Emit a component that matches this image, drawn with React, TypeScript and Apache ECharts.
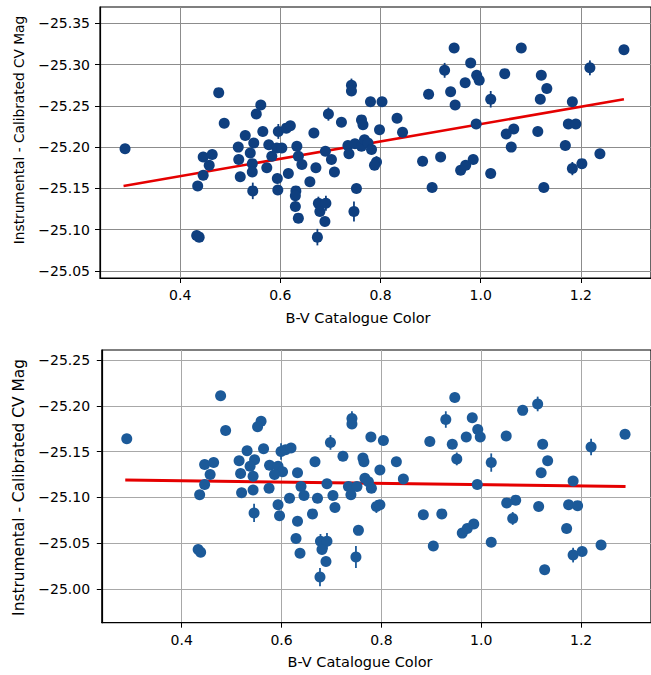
import React, { useEffect, useRef } from "react";
import * as echarts from "echarts";

// ---------- data ----------
const xTicks = [0.4, 0.6, 0.8, 1.0, 1.2];
const topYTicks = [-25.35, -25.3, -25.25, -25.2, -25.15, -25.1, -25.05];
const botYTicks = [-25.25, -25.2, -25.15, -25.1, -25.05, -25.0];

const xTitle = "B-V Catalogue Color";
const yTitle = "Instrumental - Calibrated CV Mag";

// top panel: raw offsets
const topBV = [
  0.290, 0.477, 0.488, 0.561, 0.552, 0.530, 0.565, 0.516, 0.517, 0.520,
  0.446, 0.464, 0.458, 0.446, 0.435, 0.433, 0.438, 0.545, 0.547, 0.540,
  0.544, 0.544, 0.573, 0.577, 0.593, 0.603, 0.583, 0.596, 0.612, 0.620,
  0.633, 0.636, 0.643, 0.616, 0.594, 0.595, 0.631, 0.630, 0.630, 0.636,
  0.659, 0.667, 0.671, 0.676, 0.691, 0.679, 0.689, 0.674, 0.696, 0.690,
  0.702, 0.708, 0.722, 0.742, 0.742, 0.762, 0.765, 0.780, 0.803, 0.798,
  0.833, 0.844, 0.735, 0.737, 0.749, 0.762, 0.768, 0.775, 0.782, 0.792,
  0.788, 0.752, 0.747, 0.947, 1.081, 1.286, 0.928, 0.980, 0.992, 0.997,
  0.969, 0.940, 0.949, 0.896, 1.048, 1.121, 1.132, 1.119, 1.218, 1.183,
  1.020, 0.991, 1.066, 1.051, 1.114, 1.175, 1.190, 1.061, 1.169, 1.238,
  0.884, 0.920, 0.960, 0.970, 0.985, 1.020, 0.903, 1.126, 1.183, 1.202,
];
const topMag = [
  -25.198, -25.266, -25.229, -25.251, -25.240, -25.214, -25.219, -25.200, -25.185, -25.164,
  -25.188, -25.191, -25.178, -25.166, -25.153, -25.093, -25.091, -25.147, -25.205, -25.193,
  -25.180, -25.170, -25.175, -25.203, -25.199, -25.199, -25.189, -25.219, -25.223, -25.226,
  -25.201, -25.189, -25.179, -25.168, -25.162, -25.148, -25.147, -25.141, -25.128, -25.114,
  -25.158, -25.217, -25.175, -25.132, -25.132, -25.122, -25.110, -25.091, -25.240, -25.195,
  -25.185, -25.170, -25.230, -25.275, -25.268, -25.233, -25.227, -25.255, -25.255, -25.221,
  -25.235, -25.218, -25.202, -25.192, -25.204, -25.201, -25.209, -25.205, -25.197, -25.182,
  -25.178, -25.150, -25.122, -25.320, -25.320, -25.318, -25.293, -25.302, -25.287, -25.281,
  -25.278, -25.267, -25.251, -25.264, -25.289, -25.287, -25.271, -25.258, -25.296, -25.255,
  -25.258, -25.228, -25.222, -25.216, -25.219, -25.228, -25.228, -25.200, -25.202, -25.192,
  -25.183, -25.188, -25.172, -25.178, -25.185, -25.168, -25.151, -25.151, -25.174, -25.180,
];
const topErr = [
  0, 0, 0, 0, 0, 0, 0, 0, 0, 0,
  0, 0, 0, 0, 0, 0, 0, 0.010, 0, 0,
  0, 0, 0, 0, 0, 0, 0, 0.009, 0, 0,
  0, 0, 0, 0, 0, 0, 0, 0, 0, 0,
  0, 0, 0, 0.008, 0.009, 0, 0, 0.010, 0.008, 0,
  0, 0, 0, 0.008, 0, 0, 0, 0, 0, 0,
  0, 0, 0, 0, 0, 0, 0, 0, 0, 0.007,
  0, 0, 0.012, 0, 0, 0, 0.009, 0, 0, 0,
  0, 0, 0, 0, 0, 0, 0, 0, 0.009, 0,
  0.010, 0, 0, 0, 0, 0, 0, 0, 0, 0,
  0, 0, 0, 0, 0, 0, 0, 0, 0.008, 0,
];
const topFitBV = [0.287, 1.286];
const topFitMag = [-25.153, -25.258];

// bottom panel: corrected offsets
const botBV = [
  0.290, 0.478, 0.488, 0.559, 0.552, 0.531, 0.564, 0.515, 0.518, 0.520,
  0.446, 0.464, 0.457, 0.446, 0.436, 0.433, 0.438, 0.545, 0.546, 0.537,
  0.543, 0.543, 0.575, 0.576, 0.593, 0.602, 0.586, 0.599, 0.608, 0.619,
  0.632, 0.639, 0.645, 0.616, 0.593, 0.596, 0.632, 0.629, 0.637, 0.662,
  0.667, 0.672, 0.678, 0.691, 0.681, 0.689, 0.677, 0.698, 0.691, 0.703,
  0.707, 0.723, 0.741, 0.741, 0.763, 0.765, 0.779, 0.804, 0.797, 0.830,
  0.844, 0.734, 0.739, 0.751, 0.767, 0.774, 0.780, 0.790, 0.797, 0.754,
  0.749, 0.947, 1.083, 1.113, 1.288, 0.929, 0.982, 0.993, 0.998, 0.970,
  0.942, 0.951, 0.897, 1.050, 1.123, 1.133, 1.120, 1.220, 1.184, 1.020,
  0.992, 1.069, 1.051, 1.115, 1.175, 1.193, 1.063, 1.171, 1.240, 0.884,
  0.921, 0.962, 0.972, 0.985, 1.020, 0.904, 1.127, 1.184, 1.202,
];
const botMag = [
  -25.164, -25.211, -25.173, -25.183, -25.177, -25.151, -25.153, -25.140, -25.126, -25.105,
  -25.136, -25.138, -25.125, -25.114, -25.103, -25.043, -25.040, -25.083, -25.141, -25.134,
  -25.123, -25.108, -25.110, -25.135, -25.134, -25.128, -25.125, -25.150, -25.152, -25.154,
  -25.127, -25.112, -25.102, -25.099, -25.092, -25.080, -25.074, -25.055, -25.039, -25.082,
  -25.139, -25.099, -25.052, -25.052, -25.043, -25.030, -25.013, -25.160, -25.115, -25.102,
  -25.089, -25.145, -25.186, -25.180, -25.143, -25.139, -25.166, -25.162, -25.130, -25.139,
  -25.120, -25.112, -25.103, -25.112, -25.121, -25.117, -25.110, -25.090, -25.092, -25.064,
  -25.035, -25.209, -25.195, -25.202, -25.169, -25.185, -25.187, -25.174, -25.166, -25.166,
  -25.158, -25.142, -25.161, -25.167, -25.158, -25.140, -25.127, -25.155, -25.118, -25.138,
  -25.114, -25.097, -25.094, -25.090, -25.092, -25.091, -25.077, -25.066, -25.048, -25.081,
  -25.082, -25.061, -25.066, -25.071, -25.051, -25.047, -25.021, -25.037, -25.041,
];
const botErr = [
  0, 0, 0, 0, 0, 0, 0, 0, 0, 0,
  0, 0, 0, 0, 0, 0, 0, 0.010, 0, 0,
  0, 0, 0, 0, 0, 0, 0, 0.009, 0, 0,
  0, 0, 0, 0, 0, 0, 0, 0, 0, 0,
  0, 0, 0.008, 0.009, 0, 0, 0.010, 0.008, 0, 0,
  0, 0, 0.008, 0, 0, 0, 0, 0, 0, 0,
  0, 0, 0, 0, 0, 0, 0, 0.007, 0, 0,
  0.012, 0, 0, 0.008, 0, 0.009, 0, 0, 0, 0,
  0, 0.007, 0, 0, 0, 0, 0, 0.009, 0, 0.010,
  0, 0, 0, 0, 0, 0, 0.007, 0, 0, 0,
  0, 0, 0, 0, 0, 0, 0, 0.008, 0,
];
const botFitBV = [0.287, 1.289];
const botFitMag = [-25.119, -25.112];

// ---------- styles ----------
const FONT = "DejaVu Sans";
const TOP_COLOR = "#0f3f7f";
const BOT_COLOR = "#1c5a99";
const FIT_COLOR = "#e50000";

const fmtY = (v: number) => (v < 0 ? "\u2212" : "") + Math.abs(v).toFixed(2);
const fmtX = (v: number) => v.toFixed(1);

function makeX(gridIndex: number, gridColor: string) {
  return {
    type: "value",
    gridIndex,
    min: 0.24,
    max: 1.34,
    axisLine: { show: true, lineStyle: { color: "#000", width: 1.2 } },
    axisTick: { show: true, customValues: xTicks, length: 5, lineStyle: { color: "#000", width: 1 } },
    axisLabel: {
      customValues: xTicks,
      formatter: fmtX,
      fontSize: 14,
      fontFamily: FONT,
      color: "#000",
      margin: 10,
    },
    splitLine: { show: true, lineStyle: { color: gridColor, width: 1 } },
  };
}

function makeY(gridIndex: number, min: number, max: number, ticks: number[], gridColor: string, margin: number) {
  return {
    type: "value",
    gridIndex,
    inverse: true,
    min,
    max,
    axisLine: { show: true, lineStyle: { color: "#000", width: 1.2 } },
    axisTick: { show: true, customValues: ticks, length: 5, lineStyle: { color: "#000", width: 1 } },
    axisLabel: {
      customValues: ticks,
      formatter: fmtY,
      fontSize: 14,
      fontFamily: FONT,
      color: "#000",
      margin,
    },
    splitLine: { show: true, lineStyle: { color: gridColor, width: 1 } },
  };
}

function errSeries(idx: number, bv: number[], mag: number[], err: number[], color: string) {
  const data: number[][] = [];
  bv.forEach((x, i) => {
    if (err[i] > 0) data.push([x, mag[i], err[i]]);
  });
  return {
    type: "custom",
    xAxisIndex: idx,
    yAxisIndex: idx,
    z: 3,
    data,
    renderItem: (params: any, api: any) => {
      const x = api.value(0);
      const y = api.value(1);
      const e = api.value(2);
      const p1 = api.coord([x, y - e]);
      const p2 = api.coord([x, y + e]);
      return {
        type: "line",
        shape: { x1: p1[0], y1: p1[1], x2: p2[0], y2: p2[1] },
        style: { stroke: color, lineWidth: 1.8 },
      };
    },
  };
}

export default function App() {
  const ref = useRef<HTMLDivElement>(null);

  useEffect(() => {
    document.body.style.margin = "0";
    if (!ref.current) return;
    const chart = echarts.init(ref.current, undefined, { renderer: "svg" });

    const topPts = topBV.map((x, i) => [x, topMag[i]]);
    const botPts = botBV.map((x, i) => [x, botMag[i]]);
    const topFit = topFitBV.map((x, i) => [x, topFitMag[i]]);
    const botFit = botFitBV.map((x, i) => [x, botFitMag[i]]);

    chart.setOption({
      animation: false,
      backgroundColor: "#fff",
      grid: [
        { left: 100, top: 7, width: 554, height: 271, show: true, borderColor: "#000", borderWidth: 1.2, backgroundColor: "transparent" },
        { left: 101.8, top: 350, width: 556, height: 272.7, show: true, borderColor: "#000", borderWidth: 1.2, backgroundColor: "transparent" },
      ],
      xAxis: [makeX(0, "#8c8c8c"), makeX(1, "#a8a8a8")],
      yAxis: [
        makeY(0, -25.3697, -25.0415, topYTicks, "#8c8c8c", 10),
        makeY(1, -25.2609, -24.9632, botYTicks, "#a8a8a8", 11.7),
      ],
      series: [
        {
          type: "line",
          xAxisIndex: 0,
          yAxisIndex: 0,
          data: topFit,
          showSymbol: false,
          symbol: "none",
          z: 2,
          lineStyle: { color: FIT_COLOR, width: 2.6 },
        },
        errSeries(0, topBV, topMag, topErr, TOP_COLOR),
        {
          type: "scatter",
          xAxisIndex: 0,
          yAxisIndex: 0,
          data: topPts,
          symbol: "circle",
          symbolSize: 11,
          z: 4,
          itemStyle: { color: TOP_COLOR, opacity: 1 },
        },
        {
          type: "line",
          xAxisIndex: 1,
          yAxisIndex: 1,
          data: botFit,
          showSymbol: false,
          symbol: "none",
          z: 2,
          lineStyle: { color: FIT_COLOR, width: 3 },
        },
        errSeries(1, botBV, botMag, botErr, BOT_COLOR),
        {
          type: "scatter",
          xAxisIndex: 1,
          yAxisIndex: 1,
          data: botPts,
          symbol: "circle",
          symbolSize: 11,
          z: 4,
          itemStyle: { color: BOT_COLOR, opacity: 1 },
        },
      ],
      graphic: [
        {
          type: "text",
          x: 18.5,
          y: 130,
          rotation: Math.PI / 2,
          style: { text: yTitle, font: `13.7px "${FONT}"`, fill: "#000", textAlign: "center", textVerticalAlign: "middle" },
        },
        {
          type: "text",
          x: 18.5,
          y: 487.5,
          rotation: Math.PI / 2,
          style: { text: yTitle, font: `15.4px "${FONT}"`, fill: "#000", textAlign: "center", textVerticalAlign: "middle" },
        },
        {
          type: "text",
          x: 358,
          y: 318.3,
          style: { text: xTitle, font: `14.5px "${FONT}"`, fill: "#000", textAlign: "center", textVerticalAlign: "middle" },
        },
        {
          type: "text",
          x: 360,
          y: 661.7,
          style: { text: xTitle, font: `14.5px "${FONT}"`, fill: "#000", textAlign: "center", textVerticalAlign: "middle" },
        },
      ],
    });

    return () => chart.dispose();
  }, []);

  return <div ref={ref} style={{ width: 651, height: 675 }} />;
}
